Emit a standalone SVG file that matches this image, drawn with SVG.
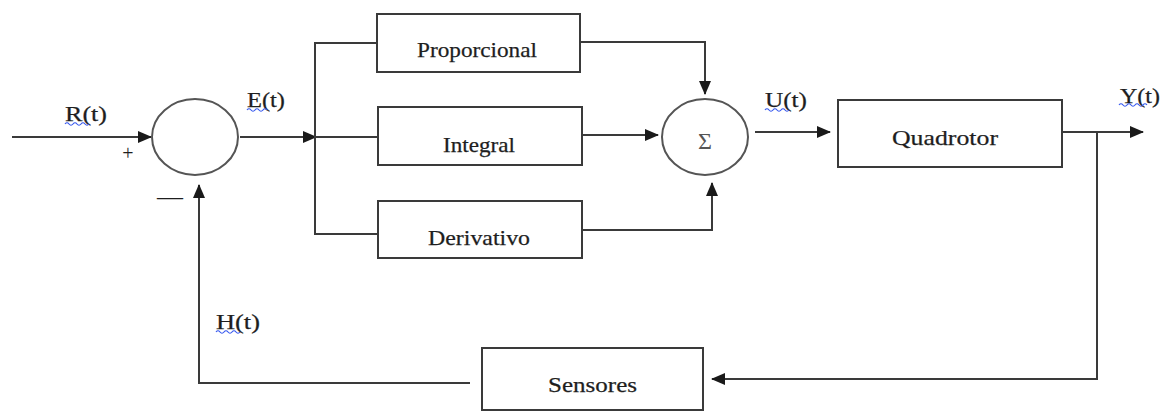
<svg xmlns="http://www.w3.org/2000/svg" width="1170" height="412" viewBox="0 0 1170 412">
<style>
.box{fill:#fff;stroke:#3a3a3a;stroke-width:2}
.sum{fill:#fff;stroke:#555;stroke-width:2}
.ln{fill:none;stroke:#3a3a3a;stroke-width:2}
.arr{fill:none;stroke:#3a3a3a;stroke-width:2;marker-end:url(#ah)}
text{font-family:"Liberation Serif","Times New Roman",serif;fill:#1e1e1e}
.lbl{font-size:22px;stroke:#1e1e1e;stroke-width:0.25}
.sig{font-size:24px;fill:#555}
.wave{fill:none;stroke:#3355ee;stroke-width:1.2}
</style>
<defs>
<marker id="ah" markerUnits="userSpaceOnUse" markerWidth="14" markerHeight="12" refX="13" refY="6" orient="auto">
<path d="M0,0 L14,6 L0,12 Z" fill="#1a1a1a"/>
</marker>
</defs>
<g id="connectors">
<line class="arr" x1="12" y1="137" x2="151" y2="137"/>
<line class="arr" x1="240" y1="137" x2="316" y2="137"/>
<polyline class="ln" points="377,43 315,43 315,234 378,234"/>
<line class="ln" x1="315" y1="137" x2="378" y2="137"/>
<polyline class="arr" points="580,42 705,42 705,94"/>
<line class="arr" x1="582" y1="135" x2="658" y2="135"/>
<polyline class="arr" points="582,230 712,230 712,183"/>
<line class="arr" x1="755" y1="132" x2="830" y2="132"/>
<line class="arr" x1="1062" y1="132" x2="1143" y2="132"/>
<polyline class="arr" points="1097,132 1097,379 712,379"/>
<polyline class="arr" points="470,383 199,383 199,185"/>
</g>
<g id="sum1">
<ellipse class="sum" cx="195" cy="137" rx="43" ry="38"/>
</g>
<g id="sum2">
<ellipse class="sum" cx="705" cy="137" rx="43" ry="38"/>
<text class="sig" x="705" y="149" text-anchor="middle">Σ</text>
</g>
<g id="proporcional">
<rect class="box" x="377" y="14" width="203" height="58"/>
<text class="lbl" x="417" y="57" textLength="120" lengthAdjust="spacingAndGlyphs">Proporcional</text>
</g>
<g id="integral">
<rect class="box" x="378" y="107" width="204" height="58"/>
<text class="lbl" x="443" y="152" textLength="72" lengthAdjust="spacingAndGlyphs">Integral</text>
</g>
<g id="derivativo">
<rect class="box" x="378" y="201" width="204" height="57"/>
<text class="lbl" x="428" y="245" textLength="102" lengthAdjust="spacingAndGlyphs">Derivativo</text>
</g>
<g id="quadrotor">
<rect class="box" x="838" y="100" width="224" height="67"/>
<text class="lbl" x="892" y="145" textLength="106" lengthAdjust="spacingAndGlyphs">Quadrotor</text>
</g>
<g id="sensores">
<rect class="box" x="482" y="348" width="221" height="62"/>
<text class="lbl" x="548" y="392" textLength="89" lengthAdjust="spacingAndGlyphs">Sensores</text>
</g>
<g id="labels">
<text class="lbl" x="65" y="121" textLength="42" lengthAdjust="spacingAndGlyphs">R(t)</text>
<text class="lbl" x="247" y="107" textLength="38" lengthAdjust="spacingAndGlyphs">E(t)</text>
<text class="lbl" x="765" y="107" textLength="42" lengthAdjust="spacingAndGlyphs">U(t)</text>
<text class="lbl" x="1120" y="103" textLength="40" lengthAdjust="spacingAndGlyphs">Y(t)</text>
<text class="lbl" x="216" y="329" textLength="44" lengthAdjust="spacingAndGlyphs">H(t)</text>
<text x="128" y="160" font-size="20" fill="#555" text-anchor="middle">+</text>
<text x="170" y="205" font-size="26" text-anchor="middle">—</text>
<path class="wave" d="M65,124 q2,-2.5 4,0 t4,0 t4,0 t4,0 t4,0 t4,0"/>
<path class="wave" d="M247,110 q2,-2.5 4,0 t4,0 t4,0 t4,0 t4,0"/>
<path class="wave" d="M765,110 q2,-2.5 4,0 t4,0 t4,0 t4,0 t4,0 t4,0"/>
<path class="wave" d="M1119,105 q2,-2.5 4,0 t4,0 t4,0 t4,0 t4,0 t4,0 t4,0"/>
<path class="wave" d="M216,332 q2,-2.5 4,0 t4,0 t4,0 t4,0 t4,0 t4,0"/>
</g>
</svg>
